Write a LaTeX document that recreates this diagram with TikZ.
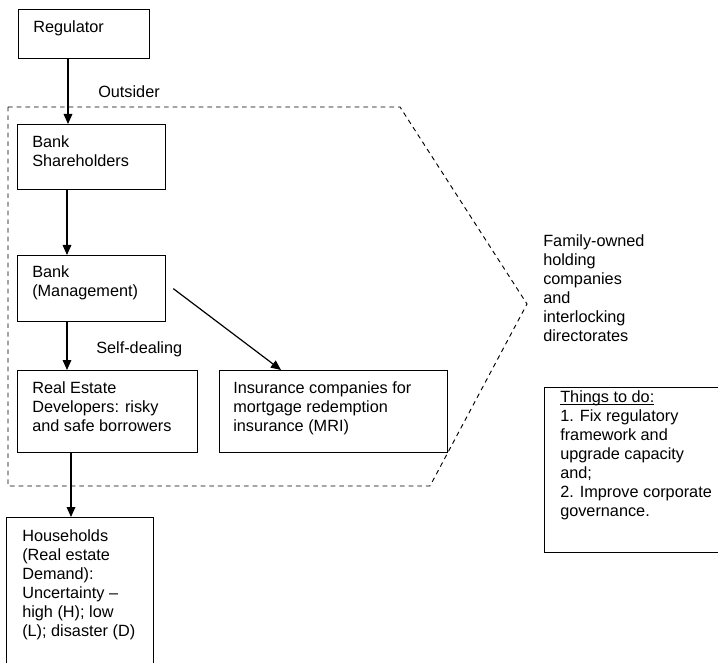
\documentclass[tikz,border=0pt]{standalone}
\usepackage{fontspec}
\setmainfont{Liberation Sans}
\usetikzlibrary{arrows.meta}

\newcommand{\ulined}[1]{{\setbox0\hbox{#1}\rlap{\rule[-2.2pt]{\wd0}{0.6pt}}\box0}}

\begin{document}
\begin{tikzpicture}[x = 0.75pt, y = -0.75pt, >={Triangle[length=7.5pt, width=6.5pt]}]
    \tikzset{
        box/.style args={#1:#2}{
            draw, line width=1pt, anchor=north west, inner sep=0pt,
            minimum width=#1, minimum height=#2
        },
        txt/.style={anchor=north west, inner sep=0pt, align=left,
            font=\fontsize{12.2}{14.25}\selectfont},
        link/.style={->, line width=0.9pt}
    }
    \useasboundingbox (0,0) rectangle (718,663);
    \clip (0,0) rectangle (718,663);

    % the family-owned group
    \draw [dash pattern=on 3.5pt off 3pt, line width=0.7pt] (8,107) -- (400,107) -- (527,304) -- (430,486) -- (8,486) -- cycle;

    \node [box=98.25pt:36.75pt] (reg) at (18,9) {};
    \node [box=111pt:48.75pt] (bsh) at (17,124) {};
    \node [box=111pt:49.5pt] (bmg) at (17,255) {};
    \node [box=135pt:61.5pt] (red) at (17,370) {};
    \node [box=171pt:61.5pt] (ins) at (219,370) {};
    \node [box=110.25pt:150pt] (hh) at (6,517) {};
    \node [box=165pt:123.75pt] (todo) at (544,387) {};

    \node [txt] (reg-t) at (33,20) {Regulator};
    \node [txt] (bsh-t) at (32,135) {Bank\\Shareholders};
    \node [txt] (bmg-t) at (32,265) {Bank\\(Management)};
    \node [txt] (red-t) at (32,381) {Real Estate\\Developers: risky\\and safe borrowers};
    \node [txt] (ins-t) at (233,381) {Insurance companies for\\mortgage redemption\\insurance (MRI)};
    \node [txt] (hh-t) at (22,529) {Households\\(Real estate\\Demand):\\Uncertainty --\\high (H); low\\(L); disaster (D)};
    \node [txt] (todo-t) at (560,390) {\ulined{Things to do:}\\1. Fix regulatory\\framework and\\upgrade capacity\\and;\\2. Improve corporate\\governance.};
    \node [txt] (fam) at (543,234) {Family-owned\\holding\\companies\\and\\interlocking\\directorates};
    \node [txt] (outs) at (98,85) {Outsider};
    \node [txt] (self) at (96,341) {Self-dealing};

    \draw [link] ([xshift=37.5pt]reg.south west) -- ([xshift=38.25pt]bsh.north west);
    \draw [link] ([xshift=37.5pt]bsh.south west) -- ([xshift=37.5pt]bmg.north west);
    \draw [link] ([xshift=37.5pt]bmg.south west) -- ([xshift=37.5pt]red.north west);
    \draw [link] ([xshift=5.25pt]bmg.east) -- ([xshift=46.5pt]ins.north west);
    \draw [link] ([xshift=40.5pt]red.south west) -- ([xshift=48.75pt]hh.north west);
\end{tikzpicture}
\end{document}
